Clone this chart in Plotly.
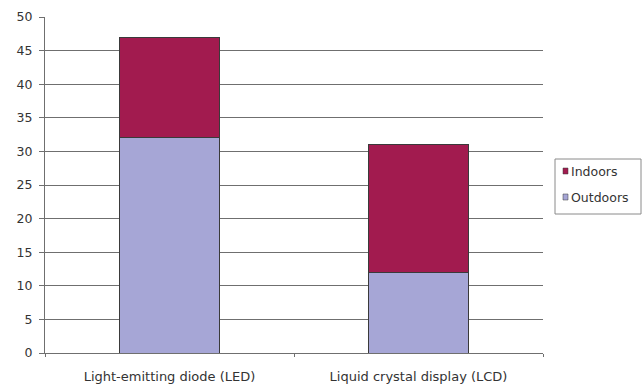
import plotly.graph_objects as go

categories = ["Light-emitting diode (LED)", "Liquid crystal display (LCD)"]
outdoors = [32, 12]
indoors = [15, 19]
y_ticks = [0, 5, 10, 15, 20, 25, 30, 35, 40, 45, 50]

OUT_COLOR = "#a6a6d6"
IN_COLOR = "#a21b4f"
EDGE = "#3a3a3a"
GRID = "#6f6f6f"

fig = go.Figure()
fig.add_trace(go.Bar(
    name="Outdoors", x=categories, y=outdoors,
    marker=dict(color=OUT_COLOR, line=dict(color=EDGE, width=1)),
))
fig.add_trace(go.Bar(
    name="Indoors", x=categories, y=indoors,
    marker=dict(color=IN_COLOR, line=dict(color=EDGE, width=1)),
))

# plot area: 498 x 336 px, placed at left=45, top=17
W, H, L, T = 498, 336, 45, 17


def px(x):
    return (x - L) / W


def py(y):
    return (T + H - y) / H


# compact legend box on the right, drawn with shapes and text
shapes = [
    dict(type="rect", xref="paper", yref="paper",
         x0=px(555), x1=px(641), y0=py(214), y1=py(159),
         line=dict(color="#8a8a8a", width=1), fillcolor="white"),
    dict(type="rect", xref="paper", yref="paper",
         x0=px(563), x1=px(568), y0=py(174), y1=py(168),
         line=dict(color=EDGE, width=0.5), fillcolor=IN_COLOR),
    dict(type="rect", xref="paper", yref="paper",
         x0=px(563), x1=px(568), y0=py(200), y1=py(194),
         line=dict(color=EDGE, width=0.5), fillcolor=OUT_COLOR),
]
annotations = [
    dict(text="Indoors", xref="paper", yref="paper", x=px(569), y=py(171),
         xanchor="left", yanchor="middle", showarrow=False,
         font=dict(size=12.5, color="#333333")),
    dict(text="Outdoors", xref="paper", yref="paper", x=px(569), y=py(197),
         xanchor="left", yanchor="middle", showarrow=False,
         font=dict(size=12.5, color="#333333")),
]

fig.update_layout(
    barmode="stack",
    bargap=0.6,
    width=644, height=386,
    margin=dict(l=L, r=644 - L - W, t=T, b=386 - T - H),
    paper_bgcolor="white", plot_bgcolor="white",
    font=dict(family="DejaVu Sans, sans-serif", size=12, color="#333333"),
    showlegend=False,
    shapes=shapes,
    annotations=annotations,
)
fig.update_yaxes(
    range=[0, 50], tickvals=y_ticks,
    showgrid=True, gridcolor=GRID, gridwidth=1,
    showline=True, linecolor=GRID, linewidth=1,
    ticks="outside", ticklen=5, tickcolor=GRID,
    ticklabelstandoff=4, tickfont=dict(size=12.5),
    zeroline=False, fixedrange=True, automargin=False,
)
fig.update_xaxes(
    showline=True, linecolor=GRID, linewidth=1,
    ticks="outside", ticklen=3, tickcolor=GRID,
    tickson="boundaries", showgrid=False,
    ticklabelstandoff=11, tickfont=dict(size=13),
    automargin=False,
)

fig.write_html("out.html")
